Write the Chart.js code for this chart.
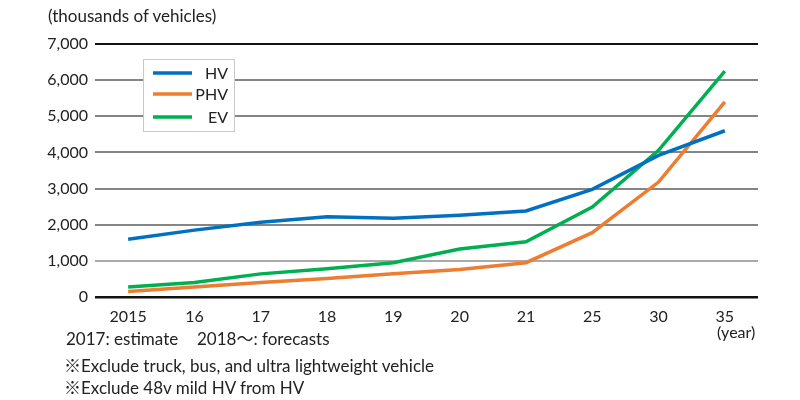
<!DOCTYPE html>
<html>
<head>
<meta charset="utf-8">
<script src="https://cdn.jsdelivr.net/npm/chart.js@4"></script>
<style>
  html, body { margin: 0; padding: 0; background: #fff; }
  #wrap { position: relative; width: 800px; height: 400px; font-family: Lato, "Noto Sans CJK JP", sans-serif; color: #222; }
  canvas { position: absolute; left: 0; top: 0; }
  .t { position: absolute; white-space: nowrap; font-size: 17px; line-height: 1; }
</style>
</head>
<body>
<div id="wrap">
  <canvas id="c" width="800" height="400"></canvas>
  <div class="t" style="left:48px; top:7px; font-size:17px;">(thousands of vehicles)</div>
  <div class="t" style="left:717px; top:324px; font-size:16px;">(year)</div>
  <div class="t" style="left:66px; top:330px;">2017: estimate</div>
  <div class="t" style="left:197px; top:330px;">2018～: forecasts</div>
  <div class="t" style="left:64px; top:357px;">※Exclude truck, bus, and ultra lightweight vehicle</div>
  <div class="t" style="left:64px; top:379px;">※Exclude 48v mild HV from HV</div>
</div>
<script>
const categories = ['2015', '16', '17', '18', '19', '20', '21', '25', '30', '35'];
const seriesNames = ['HV', 'PHV', 'EV'];
const hvValues  = [1600, 1850, 2070, 2220, 2180, 2260, 2380, 2980, 3920, 4600];
const phvValues = [150, 280, 400, 510, 640, 760, 950, 1780, 3180, 5400];
const evValues  = [280, 400, 640, 780, 950, 1330, 1530, 2490, 4060, 6250];
const yTicks = [0, 1000, 2000, 3000, 4000, 5000, 6000, 7000];
const colors = ['#0070C0', '#ED7D31', '#00B050'];

const FONT = 'Lato, "Noto Sans CJK JP", sans-serif';

const legendPlugin = {
  id: 'boxLegend',
  afterDatasetsDraw(chart) {
    const ctx = chart.ctx;
    const x0 = 143, y0 = 59, w = 91, h = 72;
    ctx.save();
    ctx.fillStyle = '#fff';
    ctx.fillRect(x0, y0, w, h);
    ctx.strokeStyle = '#c8c8c8';
    ctx.lineWidth = 1;
    ctx.strokeRect(x0 + 0.5, y0 + 0.5, w, h);
    const rows = [73, 94, 117];
    chart.data.datasets.forEach((ds, i) => {
      const y = rows[i];
      ctx.strokeStyle = ds.borderColor;
      ctx.lineWidth = 3.5;
      ctx.beginPath();
      ctx.moveTo(153, y);
      ctx.lineTo(192, y);
      ctx.stroke();
      ctx.fillStyle = '#222';
      ctx.font = '16px ' + FONT;
      ctx.textAlign = 'right';
      ctx.textBaseline = 'middle';
      ctx.fillText(ds.label, 228, y + 1);
    });
    ctx.restore();
  }
};

new Chart(document.getElementById('c'), {
  type: 'line',
  data: {
    labels: categories,
    datasets: [
      { label: seriesNames[0], data: hvValues, borderColor: colors[0] },
      { label: seriesNames[1], data: phvValues, borderColor: colors[1] },
      { label: seriesNames[2], data: evValues, borderColor: colors[2] }
    ].map(d => Object.assign(d, { borderWidth: 3.5, pointRadius: 0, tension: 0, fill: false }))
  },
  options: {
    responsive: false,
    animation: false,
    layout: { padding: { left: 0, right: 42, top: 44, bottom: 0 } },
    plugins: { legend: { display: false }, tooltip: { enabled: false } },
    scales: {
      x: {
        offset: true,
        grid: { display: false, drawTicks: false },
        border: { display: false },
        ticks: { color: '#222', font: { family: FONT, size: 16 }, padding: 10, maxRotation: 0 },
        afterFit(s) { s.height = 103; }
      },
      y: {
        min: 0, max: 7000,
        afterBuildTicks(s) { s.ticks = yTicks.map(v => ({ value: v })); },
        grid: {
          drawTicks: false,
          color: c => (c.tick.value === 0 || c.tick.value === 7000) ? '#111' : (c.tick.value === 1000 ? '#aaaaaa' : '#858585'),
          lineWidth: c => (c.tick.value === 0 ? 2.5 : 2)
        },
        border: { display: false },
        ticks: {
          color: '#222', font: { family: FONT, size: 16 }, padding: 7,
          callback: v => v.toLocaleString('en-US')
        },
        afterFit(s) { s.width = 95; }
      }
    }
  },
  plugins: [legendPlugin]
});
</script>
</body>
</html>
